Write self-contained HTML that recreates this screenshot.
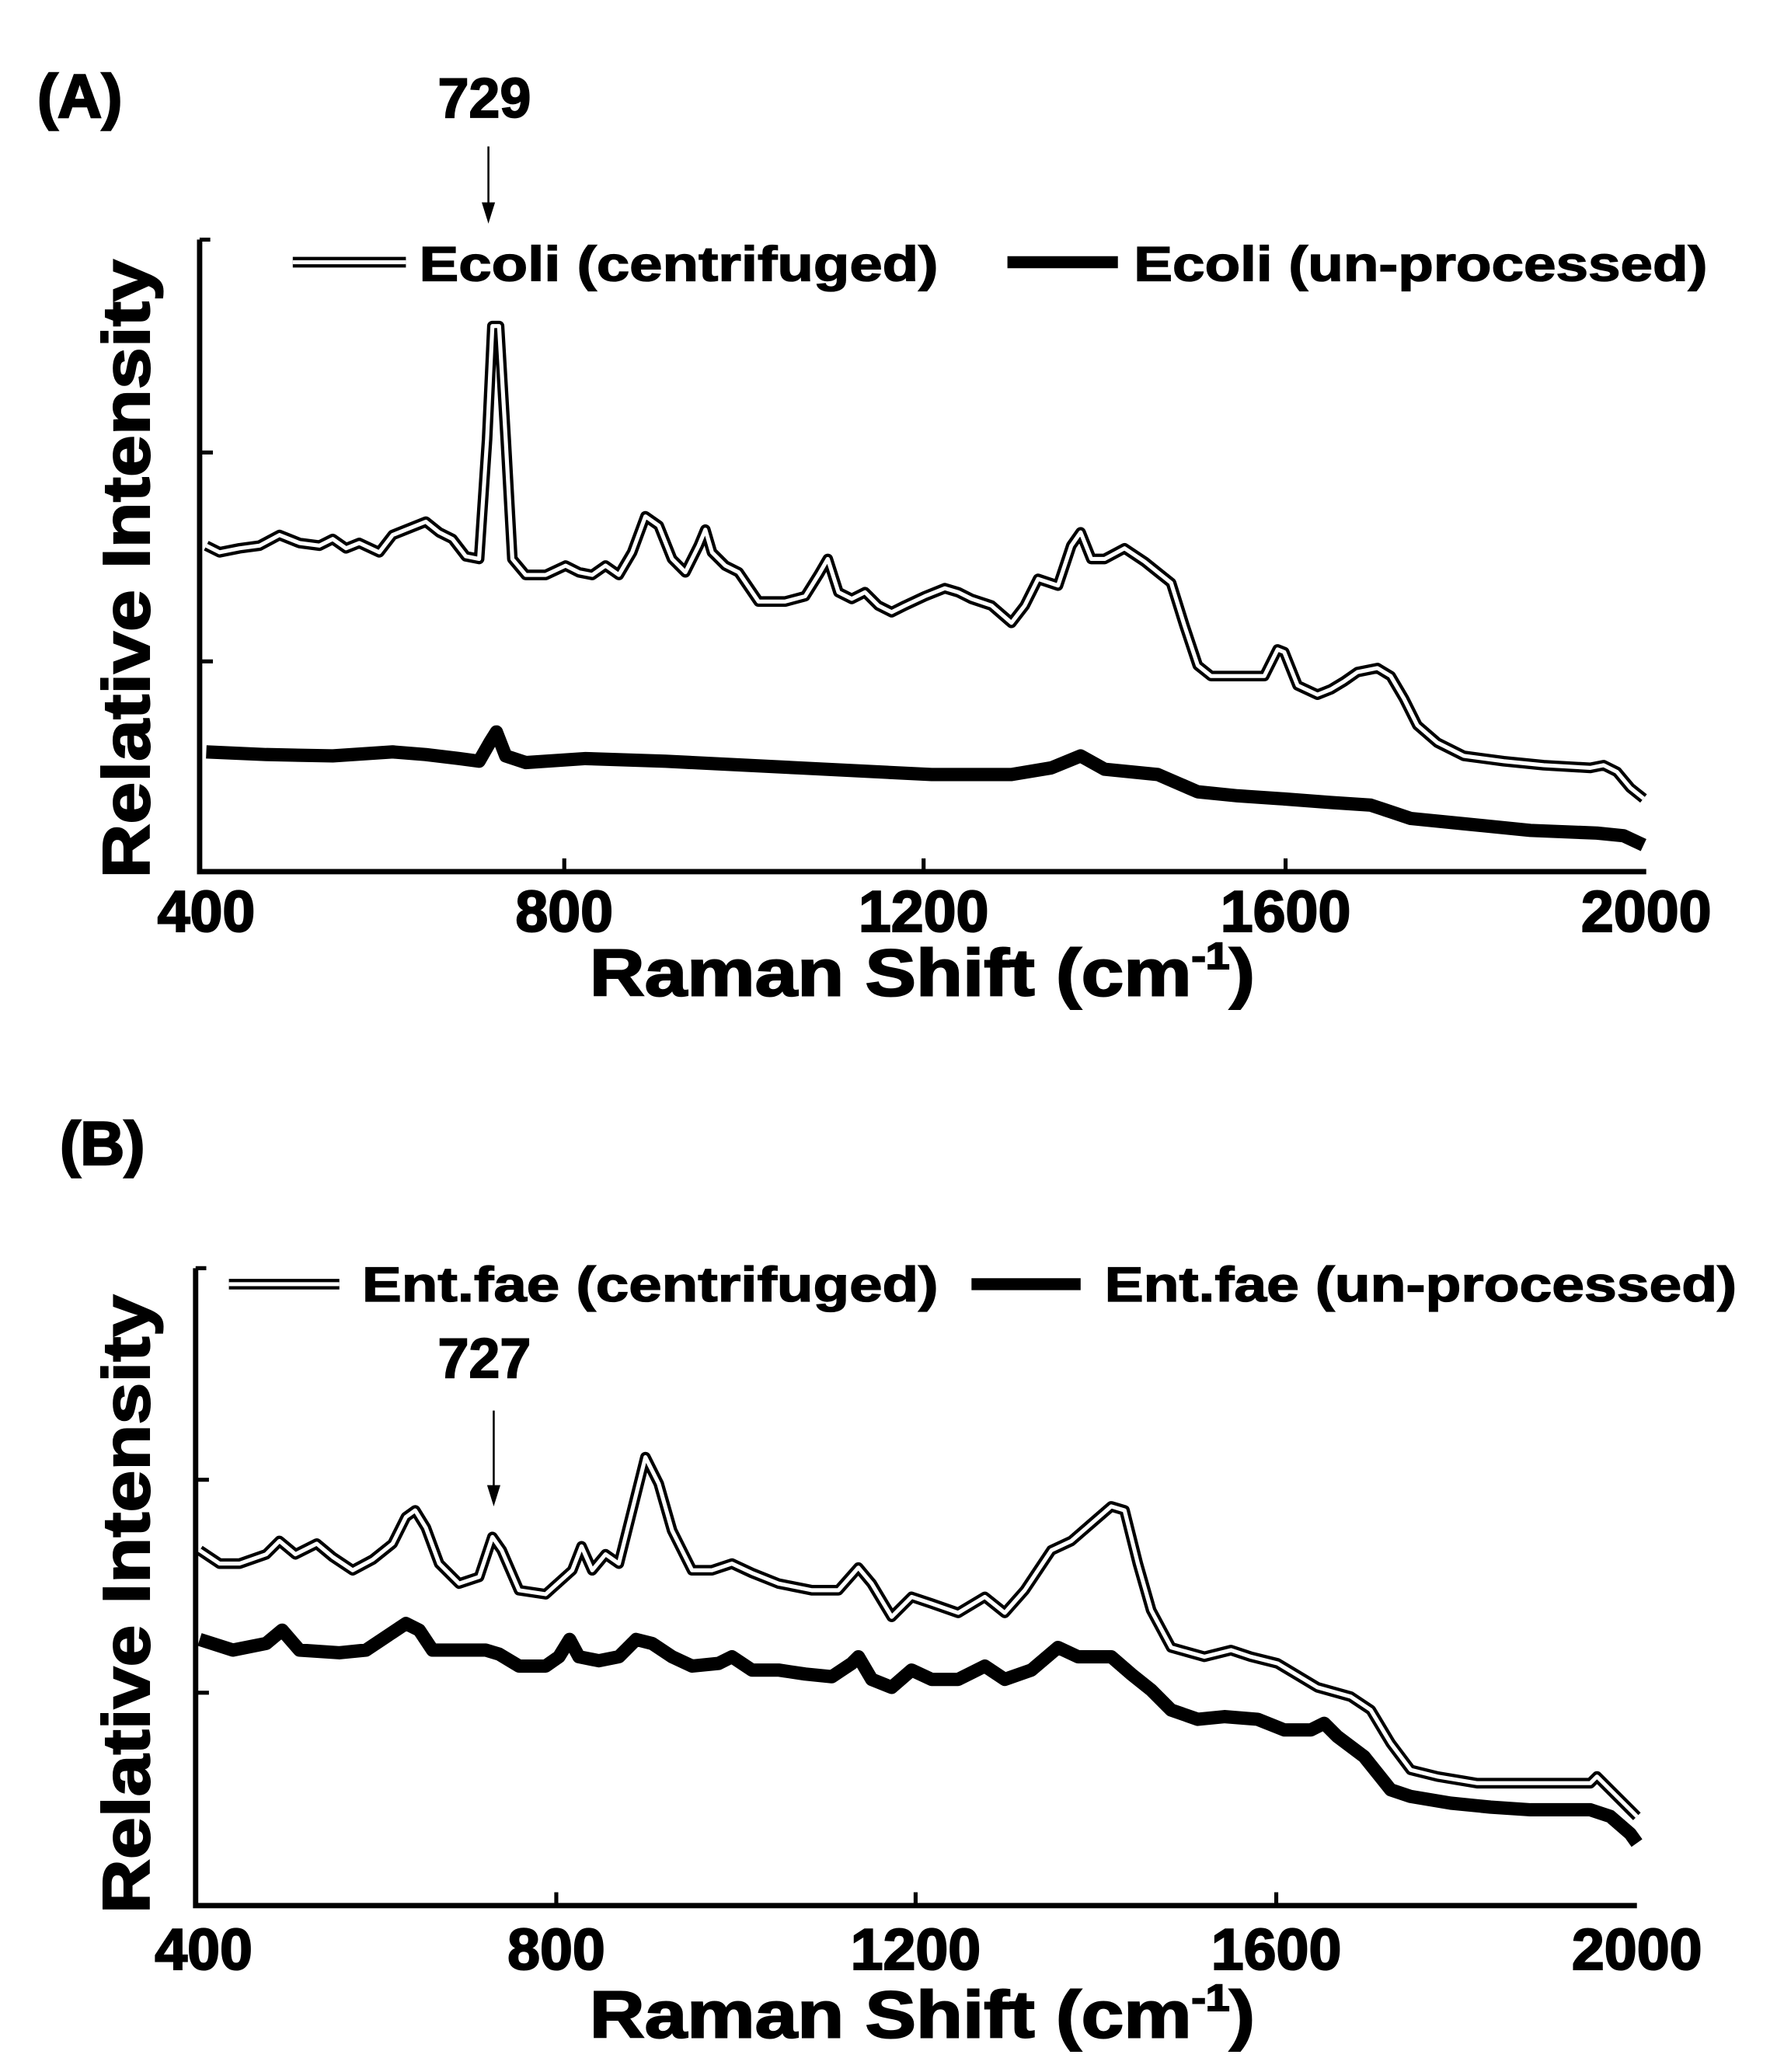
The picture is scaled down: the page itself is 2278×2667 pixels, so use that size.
<!DOCTYPE html>
<html><head><meta charset="utf-8"><style>html,body{margin:0;padding:0;background:#fff}svg{display:block}</style></head>
<body>
<svg width="2278" height="2667" viewBox="0 0 1330 1557" xmlns="http://www.w3.org/2000/svg" font-family="Liberation Sans, sans-serif" font-weight="bold">
<rect width="1330" height="1557" fill="#fff"/>
<!-- Panel A -->
<text x="28" y="88" font-size="46" stroke="#000" stroke-width="1.5">(A)</text>
<text x="364" y="88" font-size="42" text-anchor="middle" stroke="#000" stroke-width="1">729</text>
<line x1="367" y1="110" x2="367" y2="158" stroke="#000" stroke-width="1.5"/>
<polygon points="362,152 372,152 367,168" fill="#000"/>
<path d="M150,180 V655 H1237" fill="none" stroke="#000" stroke-width="4"/>
<path d="M150,180 H158 M150,340 H160 M150,497 H160 M424,655 V645 M694,655 V645 M966,655 V645" stroke="#000" stroke-width="3"/>
<g font-size="44" text-anchor="middle" stroke="#000" stroke-width="1.2">
<text x="155" y="700">400</text><text x="424" y="700">800</text><text x="694" y="700">1200</text><text x="966" y="700">1600</text><text x="1237" y="700">2000</text>
</g>
<text x="443" y="748" font-size="50" stroke="#000" stroke-width="1.2" textLength="500" lengthAdjust="spacingAndGlyphs">Raman Shift (cm<tspan font-size="28" dy="-20">-1</tspan><tspan dy="20">)</tspan></text>
<text transform="translate(112,660) rotate(-90)" font-size="50" stroke="#000" stroke-width="1.2" textLength="465" lengthAdjust="spacingAndGlyphs">Relative Intensity</text>
<line x1="220" y1="197" x2="305" y2="197" stroke="#000" stroke-width="8"/>
<line x1="220" y1="197" x2="305" y2="197" stroke="#fff" stroke-width="3"/>
<text x="315" y="211" font-size="37" stroke="#000" stroke-width="0.8" textLength="390" lengthAdjust="spacingAndGlyphs">Ecoli (centrifuged)</text>
<line x1="757" y1="197" x2="840" y2="197" stroke="#000" stroke-width="9"/>
<text x="852" y="211" font-size="37" stroke="#000" stroke-width="0.8" textLength="431" lengthAdjust="spacingAndGlyphs">Ecoli (un-processed)</text>
<polyline fill="none" stroke="#000" stroke-width="10" stroke-linejoin="round" points="155,565 200,567 250,568 295,565 320,567 345,570 360,572 368,558 373,550 380,568 395,573 440,570 500,572 600,577 700,582 760,582 790,577 812,568 830,578 870,582 900,595 930,598 960,600 1000,603 1030,605 1045,610 1060,615 1100,619 1150,624 1200,626 1220,628 1235,635"/>
<g fill="none" stroke-linejoin="round">
<polyline stroke="#000" stroke-width="8" points="155,410 165,415 180,412 195,410 210,402 225,408 240,410 250,405 260,412 270,408 285,415 295,402 305,398 320,392 330,400 340,405 350,418 360,420 366,330 370,245 375,245 380,330 385,420 395,432 410,432 425,425 435,430 445,432 455,425 465,432 475,415 485,388 495,395 505,420 515,430 525,410 530,398 535,415 545,425 555,430 570,452 590,452 605,448 615,432 622,420 630,445 640,450 650,445 660,455 670,460 680,455 695,448 710,442 720,445 730,450 745,455 760,468 770,455 780,435 795,440 805,410 812,400 820,420 830,420 845,412 860,422 870,430 880,438 890,470 900,500 910,508 930,508 950,508 960,488 965,490 975,515 990,522 1000,518 1010,512 1020,505 1035,502 1045,508 1055,525 1065,545 1080,558 1100,568 1130,572 1160,575 1195,577 1205,575 1215,580 1225,592 1235,600"/>
<polyline stroke="#fff" stroke-width="3" points="155,410 165,415 180,412 195,410 210,402 225,408 240,410 250,405 260,412 270,408 285,415 295,402 305,398 320,392 330,400 340,405 350,418 360,420 366,330 370,245 375,245 380,330 385,420 395,432 410,432 425,425 435,430 445,432 455,425 465,432 475,415 485,388 495,395 505,420 515,430 525,410 530,398 535,415 545,425 555,430 570,452 590,452 605,448 615,432 622,420 630,445 640,450 650,445 660,455 670,460 680,455 695,448 710,442 720,445 730,450 745,455 760,468 770,455 780,435 795,440 805,410 812,400 820,420 830,420 845,412 860,422 870,430 880,438 890,470 900,500 910,508 930,508 950,508 960,488 965,490 975,515 990,522 1000,518 1010,512 1020,505 1035,502 1045,508 1055,525 1065,545 1080,558 1100,568 1130,572 1160,575 1195,577 1205,575 1215,580 1225,592 1235,600"/>
</g>
<!-- Panel B -->
<text x="45" y="875" font-size="46" stroke="#000" stroke-width="1.5">(B)</text>
<path d="M147,953 V1432 H1230" fill="none" stroke="#000" stroke-width="4"/>
<path d="M147,953 H155 M147,1112 H157 M147,1272 H157 M418,1432 V1422 M688,1432 V1422 M959,1432 V1422" stroke="#000" stroke-width="3"/>
<g font-size="44" text-anchor="middle" stroke="#000" stroke-width="1.2">
<text x="153" y="1480">400</text><text x="418" y="1480">800</text><text x="688" y="1480">1200</text><text x="959" y="1480">1600</text><text x="1230" y="1480">2000</text>
</g>
<text x="443" y="1531" font-size="50" stroke="#000" stroke-width="1.2" textLength="500" lengthAdjust="spacingAndGlyphs">Raman Shift (cm<tspan font-size="28" dy="-20">-1</tspan><tspan dy="20">)</tspan></text>
<text transform="translate(112,1438) rotate(-90)" font-size="50" stroke="#000" stroke-width="1.2" textLength="465" lengthAdjust="spacingAndGlyphs">Relative Intensity</text>
<line x1="172" y1="965" x2="255" y2="965" stroke="#000" stroke-width="8"/>
<line x1="172" y1="965" x2="255" y2="965" stroke="#fff" stroke-width="3"/>
<text x="272" y="978" font-size="37" stroke="#000" stroke-width="0.8" textLength="433" lengthAdjust="spacingAndGlyphs">Ent.fae (centrifuged)</text>
<line x1="730" y1="965" x2="812" y2="965" stroke="#000" stroke-width="9"/>
<text x="830" y="978" font-size="37" stroke="#000" stroke-width="0.8" textLength="475" lengthAdjust="spacingAndGlyphs">Ent.fae (un-processed)</text>
<text x="364" y="1035" font-size="42" text-anchor="middle" stroke="#000" stroke-width="1">727</text>
<line x1="371" y1="1060" x2="371" y2="1122" stroke="#000" stroke-width="1.5"/>
<polygon points="366,1116 376,1116 371,1132" fill="#000"/>
<polyline fill="none" stroke="#000" stroke-width="10" stroke-linejoin="round" points="150,1232 175,1240 200,1235 212,1225 225,1240 255,1242 275,1240 290,1230 305,1220 315,1225 325,1240 345,1240 365,1240 375,1243 390,1252 410,1252 420,1245 428,1232 435,1245 450,1248 465,1245 478,1232 490,1235 505,1245 520,1252 540,1250 550,1245 565,1255 585,1255 605,1258 625,1260 640,1250 645,1245 655,1262 670,1268 685,1255 700,1262 720,1262 740,1252 755,1262 775,1255 795,1238 810,1245 835,1245 850,1258 865,1270 880,1285 900,1292 920,1290 945,1292 965,1300 985,1300 995,1295 1005,1305 1025,1320 1045,1345 1060,1350 1090,1355 1120,1358 1150,1360 1195,1360 1210,1365 1225,1378 1230,1385"/>
<g fill="none" stroke-linejoin="round">
<polyline stroke="#000" stroke-width="8" points="150,1165 165,1175 180,1175 200,1168 210,1158 222,1168 238,1160 250,1170 265,1180 280,1172 295,1160 305,1140 312,1135 320,1148 330,1175 345,1190 360,1185 370,1155 377,1165 390,1195 410,1198 430,1180 437,1162 445,1180 455,1168 465,1175 475,1135 485,1095 495,1115 505,1150 520,1180 535,1180 550,1175 565,1182 585,1190 610,1195 630,1195 645,1178 655,1190 670,1215 685,1200 700,1205 720,1212 740,1200 755,1212 770,1195 790,1165 805,1158 820,1145 835,1132 845,1135 855,1175 865,1210 880,1238 905,1245 925,1240 940,1245 960,1250 990,1268 1015,1275 1030,1285 1045,1310 1060,1330 1080,1335 1110,1340 1150,1340 1195,1340 1200,1335 1210,1345 1225,1360 1230,1365"/>
<polyline stroke="#fff" stroke-width="3" points="150,1165 165,1175 180,1175 200,1168 210,1158 222,1168 238,1160 250,1170 265,1180 280,1172 295,1160 305,1140 312,1135 320,1148 330,1175 345,1190 360,1185 370,1155 377,1165 390,1195 410,1198 430,1180 437,1162 445,1180 455,1168 465,1175 475,1135 485,1095 495,1115 505,1150 520,1180 535,1180 550,1175 565,1182 585,1190 610,1195 630,1195 645,1178 655,1190 670,1215 685,1200 700,1205 720,1212 740,1200 755,1212 770,1195 790,1165 805,1158 820,1145 835,1132 845,1135 855,1175 865,1210 880,1238 905,1245 925,1240 940,1245 960,1250 990,1268 1015,1275 1030,1285 1045,1310 1060,1330 1080,1335 1110,1340 1150,1340 1195,1340 1200,1335 1210,1345 1225,1360 1230,1365"/>
</g>
</svg>
</body></html>
